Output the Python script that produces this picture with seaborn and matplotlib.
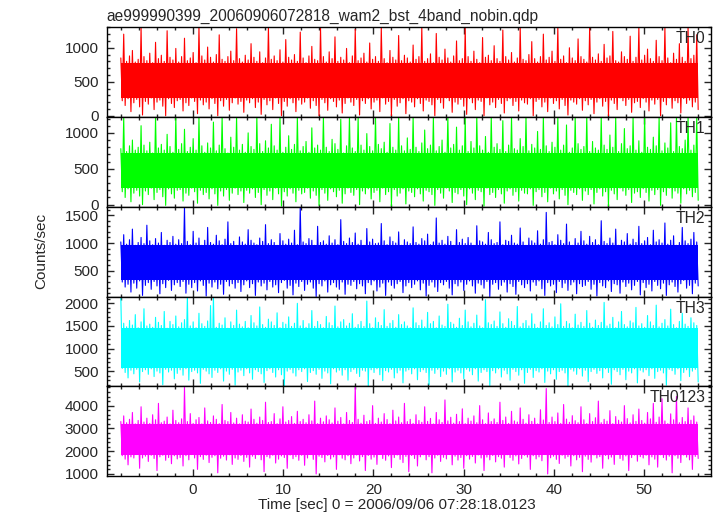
import numpy as np
import pandas as pd
import matplotlib
matplotlib.use("Agg")
import matplotlib.pyplot as plt
import seaborn as sns
from matplotlib.ticker import MultipleLocator

title = "ae999990399_20060906072818_wam2_bst_4band_nobin.qdp"
band_names = ["TH0", "TH1", "TH2", "TH3", "TH0123"]
band_colors = ["#ff0000", "#00ff00", "#0000ff", "#00ffff", "#ff00ff"]

# time span of the light curve (sec, relative to 2006/09/06 07:28:18.0123)
t_start = -8.0
t_stop = 56.0

# spike tops / bottoms (Counts/sec)
th0_peaks = [850, 1200, 800, 880, 960, 790, 830, 1300, 870, 810, 920, 780, 1080, 840, 890, 800, 1250, 860, 820, 990,
             790, 870, 1140, 810, 850, 930, 780, 1300, 880, 820, 1010, 860, 790, 900, 1190, 830, 800, 870, 950, 810,
             1280, 840, 790, 890, 820, 1060, 860, 800, 940, 780, 850, 1300, 830, 880, 810, 970, 790, 1120, 860, 820,
             900, 800, 1230, 850, 780, 880, 1020, 830, 810, 1300, 870, 790, 940, 840, 1160, 800, 860, 820, 990, 780,
             880, 1270, 810, 850, 920, 790, 1070, 830, 870, 800, 1300, 840, 780, 960, 860, 820, 1180, 810, 890, 850,
             790, 1040, 830, 870, 1300, 800, 840, 910, 780, 1210, 860, 820, 980, 850, 790, 880, 1100, 810, 840, 1300,
             870, 800, 950, 830, 780, 1150, 860, 890, 810, 1030, 840, 800, 1260, 870, 820, 930, 790, 850, 1300, 830,
             810, 900, 1090, 840, 790, 870, 1200, 820, 860, 950, 800, 1300, 830, 880, 780, 1000, 850, 810, 1130, 870,
             830, 790, 1300, 860, 820, 910, 800, 1050, 850, 880, 1240, 810, 790, 940, 870, 830, 1170, 800, 860, 1300,
             820, 890, 980, 840, 800, 1110, 870, 810, 1290, 850, 780, 920, 830, 1060, 860, 800, 1300, 840, 890, 1190]
th0_dips = [220, 150, 250, 60, 190, 240, 130, 10, 210, 170, 260, 90, 200, 230, 140, 0, 250, 180, 120, 220,
            240, 70, 190, 150, 260, 210, 30, 230, 160, 200, 100, 250, 180, 0, 220, 140, 240, 80, 190, 260,
            170, 210, 50, 230, 190, 250, 120, 200, 20, 240, 160, 220, 90, 260, 180, 0, 210, 140, 250, 190,
            60, 230, 170, 200, 260, 110, 220, 150, 0, 240, 190, 80, 250, 210, 130, 230, 40, 180, 260, 200,
            150, 240, 10, 220, 180, 250, 100, 200, 230, 60, 260, 170, 210, 0, 240, 140, 190, 250, 30, 220,
            200, 130, 250, 180, 70, 230, 210, 160, 0, 240, 190, 110, 260, 220, 50, 200, 170, 240, 140, 20,
            250, 190, 90, 230, 210, 0, 260, 160, 200, 120, 240, 180, 40, 220, 250, 150, 210, 70, 230, 190,
            170, 250, 0, 210, 240, 130, 200, 60, 260, 180, 220, 100, 240, 150, 10, 230, 200, 170, 250, 80,
            220, 160, 240, 30, 200, 250, 140, 210, 0, 230, 180, 90, 260, 220, 150, 240, 50, 190, 210, 120,
            250, 200, 70, 230, 170, 240, 0, 210, 160, 260, 110, 220, 190, 40, 250, 180, 230, 130, 200, 90]

th1_peaks = [780, 1220, 740, 820, 900, 760, 800, 1100, 830, 750, 870, 720, 1220, 790, 840, 760, 980, 810, 730, 1220,
             770, 850, 1050, 740, 800, 920, 760, 1220, 820, 730, 860, 790, 1150, 750, 830, 1220, 780, 720, 940, 800,
             1220, 760, 840, 730, 1000, 810, 770, 1220, 850, 740, 890, 790, 1120, 820, 760, 1220, 730, 800, 960, 770,
             840, 1220, 750, 810, 880, 730, 1070, 790, 830, 760, 1220, 800, 740, 910, 850, 770, 1190, 720, 820, 1220,
             790, 740, 1220, 830, 760, 990, 810, 750, 1220, 840, 780, 870, 730, 1130, 800, 760, 1220, 820, 750, 930,
             770, 1220, 800, 740, 860, 1040, 780, 830, 1220, 750, 810, 900, 730, 1220, 790, 840, 1080, 760, 820, 1220,
             740, 880, 790, 1220, 820, 760, 950, 730, 1220, 800, 850, 770, 1170, 740, 830, 1220, 780, 760, 920, 810,
             1220, 750, 840, 790, 1020, 770, 1220, 820, 740, 870, 800, 1220, 760, 830, 1110, 730, 790, 1220, 850, 770,
             810, 1220, 740, 880, 790, 760, 1220, 830, 770, 970, 800, 1220, 740, 850, 1060, 780, 820, 1220, 760, 890,
             730, 1220, 800, 770, 940, 820, 1220, 750, 860, 790, 1140, 740, 1220, 810, 780, 900, 1220, 760, 830, 1220]
th1_dips = [180, 100, 220, 40, 160, 200, 120, 0, 190, 140, 230, 70, 170, 210, 110, -10, 220, 150, 90, 200,
            210, 50, 160, 130, 230, 180, 20, 200, 140, 170, 80, 220, 150, -10, 190, 120, 210, 60, 160, 230,
            140, 190, 30, 200, 160, 220, 100, 170, 0, 210, 130, 190, 70, 230, 150, -20, 180, 120, 220, 160,
            40, 200, 150, 170, 230, 90, 190, 130, -10, 210, 160, 60, 220, 180, 110, 200, 20, 150, 230, 170,
            130, 210, 0, 190, 150, 220, 80, 170, 200, 40, 230, 140, 180, -20, 210, 120, 160, 220, 10, 190,
            170, 110, 220, 150, 50, 200, 180, 140, -10, 210, 160, 90, 230, 190, 30, 170, 150, 210, 120, 0,
            220, 160, 70, 200, 180, -20, 230, 140, 170, 100, 210, 150, 20, 190, 220, 130, 180, 50, 200, 160,
            150, 220, -10, 180, 210, 110, 170, 40, 230, 150, 190, 80, 210, 130, 0, 200, 170, 140, 220, 60,
            190, 140, 210, 10, 170, 220, 120, 180, -20, 200, 150, 70, 230, 190, 130, 210, 30, 160, 180, 100,
            220, 170, 50, 200, 140, 210, -10, 180, 130, 230, 90, 190, 160, 20, 220, 150, 200, 110, 170, 60]

th2_peaks = [1020, 1150, 980, 1060, 1250, 960, 1010, 1100, 990, 1320, 1040, 970, 1080, 1000, 1190, 960, 1050, 1010, 1120, 980,
             1060, 990, 1650, 1030, 970, 1210, 1000, 1090, 960, 1050, 1280, 1010, 980, 1140, 1040, 970, 1070, 1380, 990, 1030,
             960, 1110, 1020, 980, 1240, 1050, 1000, 970, 1090, 1030, 1330, 990, 1060, 1010, 960, 1170, 1040, 980, 1070, 1000,
             1230, 970, 1650, 1020, 990, 1080, 1050, 960, 1300, 1010, 1040, 980, 1130, 1000, 1060, 970, 1420, 1030, 990, 1090,
             1010, 1180, 980, 1050, 960, 1260, 1020, 1070, 990, 1000, 1350, 1040, 970, 1110, 1030, 1000, 1200, 960, 1060, 1020,
             990, 1290, 1010, 980, 1080, 1040, 1160, 970, 1020, 1450, 1000, 1050, 980, 1120, 1030, 960, 1240, 1010, 1070, 990,
             1100, 1000, 960, 1310, 1040, 1020, 980, 1190, 1060, 990, 1010, 1380, 970, 1050, 1030, 1140, 1000, 980, 1270, 1020,
             960, 1090, 1040, 1000, 1220, 980, 1060, 1550, 1010, 1030, 970, 1150, 1050, 990, 1340, 1020, 960, 1080, 1000, 1210,
             1040, 980, 1120, 1010, 1060, 970, 1400, 1030, 990, 1090, 1000, 1250, 960, 1050, 1020, 1170, 980, 1070, 1010, 1300,
             990, 1040, 1100, 970, 1230, 1020, 1060, 1000, 1360, 980, 1050, 1130, 960, 1010, 1280, 1040, 990, 1070, 1190, 1020]
th2_dips = [300, 210, 260, 120, 280, 190, 320, 60, 240, 290, 170, 310, 230, 90, 270, 200, 330, 150, 250, 290,
            220, 310, 100, 260, 200, 290, 140, 320, 240, 50, 280, 210, 300, 180, 260, 80, 310, 230, 270, 190,
            290, 130, 250, 320, 200, 270, 60, 300, 230, 280, 160, 310, 210, 250, 110, 290, 330, 190, 240, 70,
            280, 220, 310, 150, 260, 300, 190, 40, 270, 230, 320, 120, 250, 290, 210, 170, 300, 80, 260, 240,
            310, 180, 270, 230, 90, 290, 250, 320, 140, 210, 280, 60, 300, 240, 190, 270, 310, 110, 230, 290,
            200, 260, 320, 160, 280, 50, 240, 300, 210, 130, 290, 250, 310, 190, 70, 270, 230, 300, 150, 260,
            320, 230, 100, 280, 250, 190, 310, 40, 260, 290, 170, 240, 300, 120, 270, 220, 80, 310, 250, 200,
            270, 140, 300, 240, 320, 180, 60, 290, 230, 260, 110, 310, 200, 280, 150, 250, 300, 90, 270, 220,
            240, 310, 170, 260, 50, 290, 230, 200, 320, 130, 270, 250, 100, 300, 220, 280, 160, 240, 310, 70,
            290, 200, 260, 140, 310, 240, 180, 280, 60, 250, 300, 220, 120, 270, 330, 190, 240, 90, 280, 230]

th3_peaks = [2150, 1560, 1480, 1620, 1520, 1750, 1460, 1590, 1880, 1500, 1540, 1470, 1690, 1580, 1510, 1820, 1450, 1600, 1530, 1720,
             1480, 1570, 1640, 2150, 1500, 1590, 1460, 1780, 1550, 1490, 1610, 1950, 2150, 1470, 1560, 1520, 1680, 1450, 1590, 1510,
             1850, 1540, 1480, 1600, 1460, 1730, 1570, 1500, 1920, 1530, 1470, 1650, 1590, 1510, 1790, 1460, 1580, 1540, 1700, 1490,
             1560, 2000, 1500, 1620, 1470, 1550, 1840, 1490, 1600, 1530, 1460, 1710, 1570, 1510, 1940, 1480, 1590, 1640, 1500, 1560,
             1770, 1470, 1530, 1600, 1490, 2050, 1550, 1460, 1680, 1580, 1510, 1860, 1490, 1560, 1620, 1470, 1750, 1530, 1590, 1500,
             1460, 1900, 1570, 1510, 1630, 1480, 1800, 1550, 1600, 1460, 1720, 1520, 1490, 1980, 1580, 1540, 1470, 1670, 1510, 1850,
             1590, 1480, 1560, 1740, 1500, 1460, 2080, 1570, 1530, 1610, 1490, 1810, 1550, 1470, 1660, 1600, 1510, 1930, 1480, 1560,
             1620, 1500, 1770, 1540, 1460, 1590, 1880, 1510, 1570, 1480, 1700, 1530, 1990, 1490, 1600, 1550, 1460, 1760, 1520, 1580,
             1490, 1840, 1560, 1470, 1630, 1510, 1580, 2020, 1500, 1540, 1690, 1460, 1590, 1820, 1530, 1480, 1610, 1570, 1910, 1500,
             1550, 1470, 1730, 1590, 1510, 1960, 1480, 1560, 1640, 1500, 1870, 1530, 1460, 1600, 1780, 1540, 1490, 1680, 1570, 1510]
th3_dips = [560, 470, 350, 520, 440, 540, 260, 490, 530, 430, 550, 380, 500, 460, 200, 540, 480, 520, 330, 450,
            530, 410, 550, 300, 490, 520, 460, 230, 540, 500, 440, 360, 520, 470, 550, 280, 500, 430, 540, 190,
            480, 520, 400, 550, 460, 320, 530, 490, 440, 250, 510, 550, 470, 370, 530, 420, 180, 500, 540, 460,
            390, 530, 490, 550, 270, 470, 510, 430, 540, 340, 500, 460, 220, 550, 480, 520, 410, 530, 300, 490,
            540, 450, 380, 520, 500, 170, 530, 470, 550, 420, 290, 510, 480, 540, 350, 460, 520, 240, 500, 530,
            440, 550, 310, 490, 530, 470, 200, 520, 450, 540, 380, 500, 430, 550, 260, 480, 520, 460, 330, 540,
            500, 420, 550, 280, 470, 530, 490, 180, 510, 460, 550, 370, 520, 440, 300, 540, 490, 410, 530, 230,
            470, 540, 360, 510, 480, 550, 250, 500, 440, 530, 320, 490, 520, 460, 170, 540, 500, 430, 550, 390,
            520, 270, 490, 540, 450, 510, 350, 550, 470, 210, 530, 490, 420, 540, 310, 500, 460, 550, 240, 520,
            480, 530, 400, 550, 340, 490, 520, 460, 190, 540, 510, 430, 550, 290, 470, 530, 380, 500, 540, 260]

th0123_peaks = [3300, 3550, 3250, 3400, 3700, 3200, 3350, 3950, 3280, 3450, 3220, 3600, 3380, 4100, 3250, 3320, 3500, 3200, 3800, 3350,
                3250, 3420, 4800, 3300, 3650, 3220, 3380, 3480, 3200, 3900, 3330, 3260, 3550, 3400, 3210, 4050, 3350, 3300, 3700, 3240,
                3450, 3200, 3600, 3320, 3280, 3850, 3400, 3230, 3500, 3350, 4150, 3260, 3300, 3650, 3210, 3420, 3950, 3280, 3350, 3520,
                3220, 3750, 3300, 3400, 3250, 3600, 3330, 4200, 3210, 3450, 3290, 3550, 3380, 3240, 3900, 3320, 3480, 3200, 3700, 3350,
                3260, 4850, 3400, 3230, 3580, 3300, 3350, 4000, 3220, 3450, 3280, 3650, 3390, 3210, 3800, 3330, 3500, 3250, 4100, 3300,
                3400, 3220, 3600, 3350, 3270, 3950, 3310, 3440, 3200, 3700, 3380, 3260, 4250, 3330, 3490, 3230, 3620, 3300, 3860, 3210,
                3450, 3320, 3550, 3250, 4000, 3380, 3210, 3680, 3300, 3420, 3260, 4150, 3350, 3500, 3220, 3750, 3330, 3280, 3900, 3400,
                3230, 3600, 3310, 3450, 3200, 3820, 3370, 4750, 3260, 3500, 3300, 3680, 3220, 4050, 3410, 3270, 3560, 3340, 3250, 3950,
                3380, 3220, 3650, 3300, 3470, 4200, 3250, 3400, 3320, 3780, 3210, 3520, 3360, 3280, 4000, 3430, 3240, 3600, 3310, 3850,
                3350, 3230, 3700, 3420, 4100, 3270, 3500, 4300, 3330, 3210, 3640, 3380, 4400, 3250, 3480, 3300, 3900, 3360, 3550, 3280]
th0123_dips = [1800, 1650, 1400, 1750, 1700, 1850, 1250, 1700, 1780, 1550, 1820, 1680, 1150, 1750, 1820, 1600, 1720, 1450, 1800, 1660,
               1720, 1350, 1800, 1620, 1850, 1700, 1200, 1760, 1640, 1820, 1500, 1730, 1800, 1050, 1690, 1780, 1610, 1840, 1420, 1700,
               1640, 1810, 1550, 1730, 1300, 1780, 1680, 1840, 1620, 1100, 1760, 1700, 1820, 1480, 1650, 1790, 1720, 1250, 1830, 1670,
               1760, 1600, 1820, 1380, 1700, 1850, 1640, 1000, 1780, 1720, 1530, 1810, 1660, 1750, 1200, 1840, 1690, 1620, 1800, 1450,
               1700, 1830, 1570, 1760, 1150, 1810, 1650, 1740, 1420, 1850, 1680, 1600, 1790, 1280, 1720, 1830, 1640, 1500, 1770, 1100,
               1810, 1680, 1350, 1750, 1840, 1620, 1760, 1050, 1700, 1820, 1550, 1730, 1660, 1850, 1400, 1780, 1610, 1720, 1250, 1800,
               1650, 1770, 1480, 1830, 1700, 1150, 1740, 1620, 1810, 1530, 1760, 1690, 1300, 1840, 1720, 1600, 1790, 1440, 1680, 1820,
               1740, 1200, 1800, 1660, 1750, 1580, 1850, 1000, 1710, 1780, 1640, 1460, 1820, 1690, 1760, 1350, 1800, 1620, 1730, 1100,
               1780, 1640, 1520, 1830, 1700, 1760, 1250, 1810, 1660, 1740, 1420, 1850, 1680, 1600, 1790, 1150, 1720, 1830, 1560, 1760,
               1700, 1820, 1400, 1750, 1650, 1300, 1840, 1720, 1610, 1780, 1050, 1800, 1690, 1500, 1830, 1740, 1620, 1200, 1770, 1680]

# dense body of each band (where the trace is solid)
core_low = [260, 230, 330, 560, 1850]
core_high = [780, 720, 960, 1450, 3200]

y_limits = [(-20, 1300), (-30, 1220), (40, 1650), (165, 2150), (910, 4850)]
y_major = [500, 500, 500, 500, 1000]
y_minor = [100, 100, 100, 100, 200]

peaks = [th0_peaks, th1_peaks, th2_peaks, th3_peaks, th0123_peaks]
dips = [th0_dips, th1_dips, th2_dips, th3_dips, th0123_dips]

sns.set_style("ticks")
plt.rcParams["font.family"] = ["Liberation Sans", "DejaVu Sans"]

fig, axes = plt.subplots(5, 1, sharex=True, figsize=(7.17, 5.16), dpi=100)
fig.subplots_adjust(left=0.149, right=0.992, top=0.947, bottom=0.0775, hspace=0)

for i, ax in enumerate(axes):
    # the trace jumps between spike tops and bottoms
    counts = np.column_stack([peaks[i], dips[i]]).ravel()
    df = pd.DataFrame({"time": np.linspace(t_start, t_stop, len(counts)), "counts": counts})

    ax.fill_between([t_start, t_stop], core_low[i], core_high[i], color=band_colors[i], lw=0)
    sns.lineplot(data=df, x="time", y="counts", ax=ax, color=band_colors[i],
                 linewidth=0.8, estimator=None, sort=False)

    ax.set_xlim(-9.55, 57.45)
    ax.set_ylim(*y_limits[i])
    ax.yaxis.set_major_locator(MultipleLocator(y_major[i]))
    ax.yaxis.set_minor_locator(MultipleLocator(y_minor[i]))
    ax.xaxis.set_major_locator(MultipleLocator(10))
    ax.xaxis.set_minor_locator(MultipleLocator(2))
    ax.tick_params(which="both", direction="in", top=True, right=True, width=1, labelsize=11)
    ax.tick_params(which="major", length=5)
    ax.tick_params(which="minor", length=2.5)
    ax.tick_params(axis="y", pad=6)
    ax.tick_params(axis="x", pad=5)
    ax.set_xlabel("")
    ax.set_ylabel("")
    for side in ax.spines.values():
        side.set_linewidth(1.0)
        side.set_color("black")
    ax.text(0.99, 0.82, band_names[i], transform=ax.transAxes, ha="right", va="baseline", fontsize=11.3)

fig.text(0.149, 0.96, title, ha="left", va="baseline", fontsize=11.2)
fig.text(0.057, 0.513, "Counts/sec", rotation=90, ha="center", va="center", fontsize=11)
fig.text(0.553, 0.0204, "Time [sec] 0 = 2006/09/06 07:28:18.0123", ha="center", va="center", fontsize=11)

fig.savefig("out.png", dpi=100)
